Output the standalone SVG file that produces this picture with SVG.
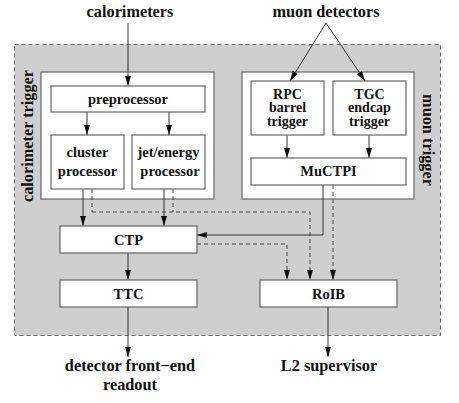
<svg xmlns="http://www.w3.org/2000/svg" width="459" height="403" viewBox="0 0 459 403">
<defs>
<marker id="ah" viewBox="0 0 10 6" refX="10" refY="3" markerWidth="10" markerHeight="6" markerUnits="userSpaceOnUse" orient="auto">
<path d="M0,0 L10,3 L0,6 z" fill="#111"/>
</marker>
<style>
text{font-weight:bold;fill:#111;text-anchor:middle}
.t{font-size:16.3px}
.b{font-size:14.5px}
.s{font-size:14px}
.box{fill:#fff;stroke:#666;stroke-width:1.2}
.grp{fill:#fff;stroke:#666;stroke-width:1.2}
.c{fill:none;stroke:#333;stroke-width:1}
.d{fill:none;stroke:#444;stroke-width:1;stroke-dasharray:4 3}
</style>
</defs>
<g font-family="'Liberation Serif', 'Times New Roman', 'DejaVu Serif', serif">
<rect x="14.5" y="44.5" width="426" height="291" fill="#cfcfcf" stroke="#666" stroke-width="1" stroke-dasharray="4 3"/>
<rect class="grp" x="41" y="72" width="173" height="127"/>
<rect class="grp" x="242" y="72" width="172" height="127"/>
<text class="t" transform="translate(33,136) rotate(-90)">calorimeter trigger</text>
<text class="t" transform="translate(423,140) rotate(90)">muon trigger</text>
<text class="t" x="130" y="17">calorimeters</text>
<text class="t" x="326" y="17">muon detectors</text>
<g id="connectors">
<line class="c" x1="128" y1="23" x2="128" y2="86" marker-end="url(#ah)"/>
<line class="c" x1="326" y1="23" x2="290" y2="81" marker-end="url(#ah)"/>
<line class="c" x1="326" y1="23" x2="365" y2="81" marker-end="url(#ah)"/>
<line class="c" x1="87" y1="112" x2="87" y2="135" marker-end="url(#ah)"/>
<line class="c" x1="169" y1="112" x2="169" y2="135" marker-end="url(#ah)"/>
<line class="c" x1="287" y1="135" x2="287" y2="158" marker-end="url(#ah)"/>
<line class="c" x1="369" y1="135" x2="369" y2="158" marker-end="url(#ah)"/>
<line class="c" x1="83" y1="189" x2="83" y2="226" marker-end="url(#ah)"/>
<line class="c" x1="164" y1="189" x2="164" y2="226" marker-end="url(#ah)"/>
<path class="d" d="M92,189 V212"/>
<path class="d" d="M173,189 V212"/>
<path class="d" d="M92,212 H310 V280" marker-end="url(#ah)"/>
<path class="c" d="M323,185 V235 H197" marker-end="url(#ah)"/>
<path class="d" d="M197,244 H287 V280" marker-end="url(#ah)"/>
<path class="d" d="M333,185 V280" marker-end="url(#ah)"/>
<line class="c" x1="128" y1="253" x2="128" y2="280" marker-end="url(#ah)"/>
<line class="c" x1="128" y1="307" x2="128" y2="357" marker-end="url(#ah)"/>
<line class="c" x1="328" y1="307" x2="328" y2="357" marker-end="url(#ah)"/>
</g>
<g id="preprocessor"><rect class="box" x="51" y="86" width="154" height="26"/><text class="b" x="128" y="104">preprocessor</text></g>
<g id="cluster"><rect class="box" x="51" y="135" width="73" height="54"/><text class="b" x="87.5" y="157">cluster</text><text class="b" x="87.5" y="176">processor</text></g>
<g id="jetenergy"><rect class="box" x="132" y="135" width="73" height="54"/><text class="b" x="168.5" y="157">jet/energy</text><text class="b" x="170" y="176">processor</text></g>
<g id="rpc"><rect class="box" x="251" y="81" width="73" height="54"/><text class="s" x="287.5" y="98.5">RPC</text><text class="s" x="287.5" y="112">barrel</text><text class="s" x="287.5" y="125.5">trigger</text></g>
<g id="tgc"><rect class="box" x="333" y="81" width="73" height="54"/><text class="s" x="369.5" y="98.5">TGC</text><text class="s" x="369.5" y="112">endcap</text><text class="s" x="369.5" y="125.5">trigger</text></g>
<g id="muctpi"><rect class="box" x="251" y="158" width="155" height="27"/><text class="b" x="328.5" y="176">MuCTPI</text></g>
<g id="ctp"><rect class="box" x="60" y="226" width="137" height="27"/><text class="b" x="128.5" y="244.5">CTP</text></g>
<g id="ttc"><rect class="box" x="60" y="280" width="137" height="27"/><text class="b" x="128.5" y="298.5">TTC</text></g>
<g id="roib"><rect class="box" x="260" y="280" width="137" height="27"/><text class="b" x="328.5" y="298.5">RoIB</text></g>
<text class="t" x="130" y="371">detector front−end</text>
<text class="t" x="130" y="390">readout</text>
<text class="t" x="329" y="371">L2 supervisor</text>
</g>
</svg>
